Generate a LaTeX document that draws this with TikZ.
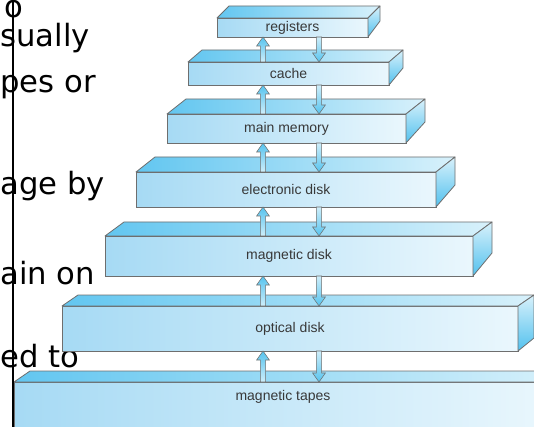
\documentclass[tikz,border=0pt]{standalone}
\usepackage{fontspec}
\setmainfont{Liberation Sans}
\newfontfamily\slidefont{DejaVu Sans}
\usetikzlibrary{calc}

\definecolor{edgegray}{HTML}{6E6E6E}
\definecolor{frontL}{HTML}{A6DAF4}
\definecolor{frontR}{HTML}{EAF7FD}
\definecolor{topL}{HTML}{62C6F0}
\definecolor{topR}{HTML}{D8F1FB}
\definecolor{sideT}{HTML}{D8F1FB}
\definecolor{sideB}{HTML}{52C1EE}
\definecolor{arrDeep}{HTML}{55C3EE}
\definecolor{arrPale}{HTML}{CFEEFA}
\definecolor{labelgray}{HTML}{383838}

\tikzset{
  front/.style={draw=edgegray, line width=0.6pt, left color=frontL, right color=frontR,
    inner sep=0pt, outer sep=0pt, rectangle},
  topface/.style={draw=edgegray, line width=0.6pt, left color=topL, right color=topR, line join=round},
  sideface/.style={draw=edgegray, line width=0.6pt, top color=sideT, bottom color=sideB, line join=round},
  boxlabel/.style={text=labelgray, font=\fontsize{10.5}{12}\selectfont, inner sep=0pt},
  slidetext/.style={font=\slidefont\fontsize{23}{27}\selectfont, text=black, inner sep=0pt, anchor=base west},
  blockarrow/.style={draw=edgegray, line width=0.4pt, line join=miter},
}

% #1 name, #2 left, #3 right, #4 top, #5 bottom, #6 depth dx,
% #7 rise of the top back edge, #8 rise of the bottom back edge, #9 label
\newcommand\slab[9]{%
  \node[front, minimum width={(#3-#2)*0.75pt}, minimum height={(#5-#4)*0.75pt}]
    (#1) at ({(#2+#3)/2},{(#4+#5)/2}) {};
  \path[topface] (#1.north west) -- ++(#6,-#7) -- ($(#1.north east)+(#6,-#7)$)
    -- (#1.north east) -- cycle;
  \path[sideface] (#1.north east) -- ++(#6,-#7) -- ($(#1.south east)+(#6,-#8)$)
    -- (#1.south east) -- cycle;
  \node[boxlabel] (#1-text) at (#1.center) {#9};
}

% block arrow pointing up: #1 foot, #2 tip
\newcommand\uparr[2]{%
  \path[blockarrow, top color=arrDeep, bottom color=arrPale]
    ($(#1)+(-2.6,0)$) -- ($(#2)+(-2.6,9)$) -- ($(#2)+(-6.4,9)$) -- (#2)
    -- ($(#2)+(6.4,9)$) -- ($(#2)+(2.6,9)$) -- ($(#1)+(2.6,0)$) -- cycle;
}
% block arrow pointing down: #1 foot, #2 tip
\newcommand\dnarr[2]{%
  \path[blockarrow, top color=arrPale, bottom color=arrDeep]
    ($(#1)+(-2.6,0)$) -- ($(#2)+(-2.6,-9)$) -- ($(#2)+(-6.4,-9)$) -- (#2)
    -- ($(#2)+(6.4,-9)$) -- ($(#2)+(2.6,-9)$) -- ($(#1)+(2.6,0)$) -- cycle;
}

\begin{document}
\begin{tikzpicture}[x=0.75pt, y=-0.75pt]
\useasboundingbox (0,0) rectangle (534,427);

% slide text running behind the figure
\node[slidetext] (s1) at (4,18) {o};
\node[slidetext] (s2) at (0,47) {sually};
\node[slidetext] (s3) at (0,93) {pes or};
\node[slidetext] (s4) at (0,195) {age by};
\node[slidetext] (s5) at (0,284) {ain on};
\node[slidetext] (s6) at (0,367) {ed to};

% storage hierarchy slabs
\slab{registers}{217}{368}{18}{37}{12}{12}{16}{registers}
\slab{cache}{188}{389}{62}{85}{14}{12}{17}{cache}
\slab{mainmem}{167}{406}{114}{143}{19}{15}{21}{main memory}
\slab{edisk}{136}{436}{172}{207}{19}{15}{22}{electronic disk}
\slab{mdisk}{105}{473}{236}{276}{19}{14}{23}{magnetic disk}
\slab{odisk}{62}{518}{306}{351}{16}{11}{13}{optical disk}
\slab{tapes}{14}{552}{382}{450}{16}{11}{13}{}
\node[boxlabel] (tapes-label) at (283,397) {magnetic tapes};

% transfer directions between levels
\coordinate (upx) at (263,0);
\coordinate (dnx) at (319,0);
\uparr{cache.north -| upx}{registers.south -| upx}
\dnarr{registers.south -| dnx}{cache.north -| dnx}
\uparr{mainmem.north -| upx}{cache.south -| upx}
\dnarr{cache.south -| dnx}{mainmem.north -| dnx}
\uparr{edisk.north -| upx}{mainmem.south -| upx}
\dnarr{mainmem.south -| dnx}{edisk.north -| dnx}
\uparr{mdisk.north -| upx}{edisk.south -| upx}
\dnarr{edisk.south -| dnx}{mdisk.north -| dnx}
\uparr{odisk.north -| upx}{mdisk.south -| upx}
\dnarr{mdisk.south -| dnx}{odisk.north -| dnx}
\uparr{tapes.north -| upx}{odisk.south -| upx}
\dnarr{odisk.south -| dnx}{tapes.north -| dnx}

% slide margin rule
\draw[black, line width=0.8pt] (13,0) -- (13,427);
\end{tikzpicture}
\end{document}
